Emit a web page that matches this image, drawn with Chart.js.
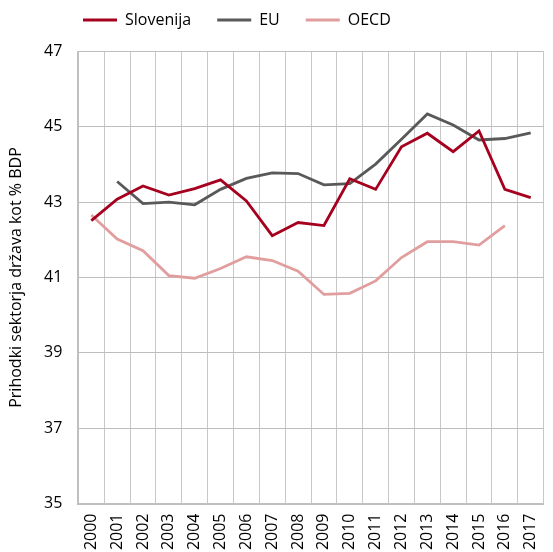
<!DOCTYPE html>
<html>
<head>
<meta charset="utf-8">
<script src="https://cdn.jsdelivr.net/npm/chart.js@4"></script>
<style>
html,body{margin:0;padding:0;background:#fff;overflow:hidden;width:553px;height:552px;}
#wrap{position:absolute;left:0;top:0;width:560px;height:552px;}
</style>
</head>
<body>
<div id="wrap"><canvas id="c" width="560" height="552"></canvas></div>
<script>
const years = ['2000','2001','2002','2003','2004','2005','2006','2007','2008','2009','2010','2011','2012','2013','2014','2015','2016','2017'];
const slovenija = [42.51,43.08,43.43,43.19,43.36,43.59,43.03,42.11,42.46,42.38,43.62,43.34,44.47,44.83,44.34,44.89,43.34,43.12];
const eu = [null,43.55,42.96,43.00,42.93,43.34,43.63,43.78,43.76,43.46,43.49,44.01,44.67,45.34,45.05,44.65,44.69,44.84];
const oecd = [42.66,42.02,41.71,41.05,40.98,41.24,41.55,41.45,41.17,40.55,40.58,40.91,41.53,41.95,41.95,41.86,42.38,null];
const yTicks = [35,37,39,41,43,45,47];
const yTitle = 'Prihodki sektorja država kot % BDP';
const colors = ['#a6001f', '#595959', '#e19e9e'];

const FONT = "'Open Sans', sans-serif";
const legendPatch = {
  id: 'legendPatch',
  beforeUpdate(chart) {
    const lg = chart.legend;
    if (lg && !lg._patched) {
      const fit = lg.fit.bind(lg);
      lg.fit = function () { fit(); this.height = 51.5; };
      lg._patched = true;
    }
  },
  afterLayout(chart) {
    chart.legend.left = 57;
    chart.legend.top = -14;
  }
};

new Chart(document.getElementById('c'), {
  type: 'line',
  data: {
    labels: years,
    datasets: [
      {label: 'Slovenija', data: slovenija, borderColor: colors[0], backgroundColor: colors[0]},
      {label: 'EU', data: eu, borderColor: colors[1], backgroundColor: colors[1]},
      {label: 'OECD', data: oecd, borderColor: colors[2], backgroundColor: colors[2]}
    ]
  },
  options: {
    responsive: false,
    animation: false,
    devicePixelRatio: 1,
    layout: {padding: {left: 0, right: 3.5, top: 0, bottom: 0}},
    elements: {
      line: {borderWidth: 2.8, tension: 0, borderCapStyle: 'butt', borderJoinStyle: 'miter'},
      point: {radius: 0, hoverRadius: 0}
    },
    spanGaps: false,
    plugins: {
      tooltip: {enabled: false},
      legend: {
        position: 'top',
        align: 'start',
        labels: {
          font: {family: FONT, size: 16},
          color: '#000',
          usePointStyle: true,
          pointStyle: 'line',
          pointStyleWidth: 34,
          padding: 26,
          generateLabels(chart) {
            const items = Chart.defaults.plugins.legend.labels.generateLabels(chart);
            items.forEach((it, i) => {
              it.strokeStyle = colors[i];
              it.fillStyle = colors[i];
              it.lineWidth = 3;
              it.pointStyle = 'line';
            });
            return items;
          }
        }
      }
    },
    scales: {
      x: {
        type: 'category',
        offset: true,
        grid: {offset: true, color: '#c8c8c8', borderDash: [2, 2], lineWidth: 1, drawTicks: false},
        border: {display: true, color: '#bfbfbf', width: 2, dash: []},
        ticks: {minRotation: 90, maxRotation: 90, autoSkip: false, padding: 10, font: {family: FONT, size: 16}, color: '#000'},
        afterFit(s) { s.height = 48.5; }
      },
      y: {
        min: 35, max: 47,
        afterBuildTicks(s) { s.ticks = yTicks.map(v => ({value: v})); },
        grid: {color: '#bdbdbd', borderDash: [2, 2], lineWidth: 1, drawTicks: false},
        border: {display: true, color: '#bfbfbf', width: 2},
        ticks: {padding: 16, font: {family: FONT, size: 16}, color: '#000'},
        title: {display: true, text: yTitle, font: {family: FONT, size: 16}, color: '#000', padding: {top: 7, bottom: 0}},
        afterFit(s) { s.width = 78.4; }
      }
    }
  },
  plugins: [legendPatch]
});
</script>
</body>
</html>
